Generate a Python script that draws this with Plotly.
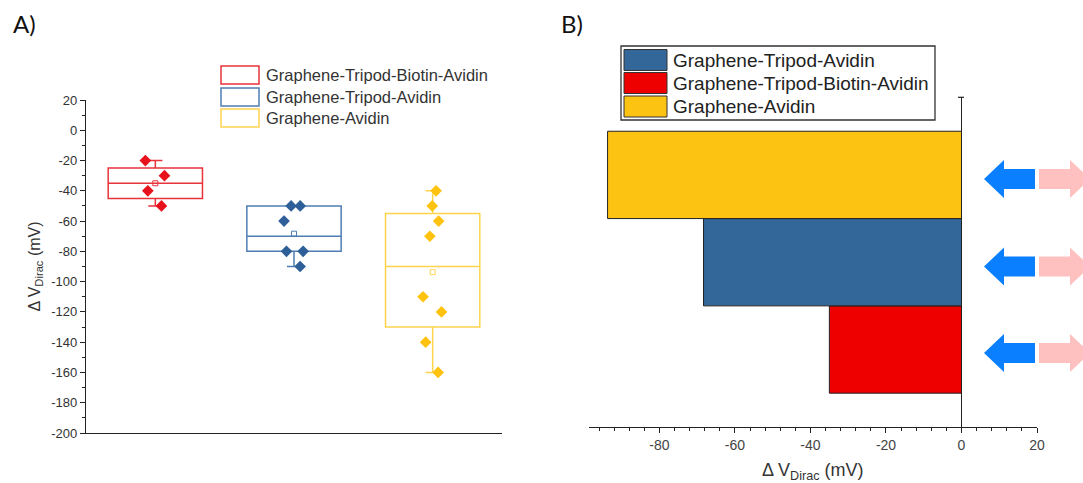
import numpy as np
import plotly.graph_objects as go

W, H = 1083, 483

groups = ["Graphene-Tripod-Biotin-Avidin", "Graphene-Tripod-Avidin", "Graphene-Avidin"]
biotin_avidin = [-20, -30, -40, -50]
tripod_avidin = [-50, -50, -60, -80, -80, -90]
graphene_avidin = [-40, -50, -60, -70, -110, -120, -140, -160]
samples = [biotin_avidin, tripod_avidin, graphene_avidin]

box_line_colors = ["#E8333A", "#4F7DB3", "#FFD44D"]
point_colors = ["#E8121C", "#2E5F99", "#FFC20E"]
bar_colors = ["#EE0000", "#336699", "#FDC312"]
legend_b_order = [1, 0, 2]

y_ticks_a = [20, 0, -20, -40, -60, -80, -100, -120, -140, -160, -180, -200]
y_ticktext_a = ["20", "0", "-20", "-40", "-60", "-80", "-100", "-120", "-140", "-160", "-180", "-200"]
x_ticks_b = [-80, -60, -40, -20, 0, 20]
x_ticktext_b = ["-80", "-60", "-40", "-20", "0", "20"]

FONT = "Liberation Sans, Arial, sans-serif"


def px(x, y):
    # pixel -> paper coords (margins are zero)
    return x / W, 1 - y / H


fig = go.Figure()

# panel A: box plots
for i, vals in enumerate(samples):
    fig.add_trace(go.Box(
        y=vals, x0=i, name=groups[i], width=0.68,
        boxpoints="all", jitter=0.25, pointpos=0,
        quartilemethod="exclusive", whiskerwidth=0.15,
        fillcolor="rgba(0,0,0,0)",
        line=dict(color=box_line_colors[i], width=1.5),
        marker=dict(symbol="diamond", size=9, color=point_colors[i]),
        showlegend=False, xaxis="x", yaxis="y",
    ))
    fig.add_trace(go.Scatter(
        x=[i], y=[np.mean(vals)], mode="markers",
        marker=dict(symbol="square-open", size=5, color=box_line_colors[i],
                    line=dict(width=1)),
        showlegend=False, hoverinfo="y", xaxis="x", yaxis="y",
    ))

# panel B: mean shift bars
for i, vals in enumerate(samples):
    fig.add_trace(go.Bar(
        y=[i], x=[np.mean(vals)], orientation="h", width=1,
        marker=dict(color=bar_colors[i], line=dict(color="#222", width=1)),
        name=groups[i], showlegend=False, xaxis="x2", yaxis="y2",
    ))

shapes = []
annotations = []

# legend A (outlined swatches)
for k, cy in enumerate([75, 97, 118]):
    x0, y0 = px(221, cy - 9)
    x1, y1 = px(259, cy + 9)
    shapes.append(dict(type="rect", xref="paper", yref="paper", x0=x0, x1=x1, y0=y0, y1=y1,
                       line=dict(color=box_line_colors[k], width=1.5), fillcolor="white"))
    tx, ty = px(264, cy)
    annotations.append(dict(x=tx, y=ty, xref="paper", yref="paper", text=groups[k],
                            showarrow=False, xanchor="left", yanchor="middle",
                            font=dict(family=FONT, size=16.5, color="#333")))

# legend B (filled swatches in a frame)
bx0, by0 = px(621, 46)
bx1, by1 = px(935, 120)
shapes.append(dict(type="rect", xref="paper", yref="paper", x0=bx0, x1=bx1, y0=by0, y1=by1,
                   line=dict(color="#333", width=1.3), fillcolor="white"))
for row, cy in enumerate([60, 83, 106.5]):
    k = legend_b_order[row]
    x0, y0 = px(624, cy - 10.5)
    x1, y1 = px(667, cy + 10.5)
    shapes.append(dict(type="rect", xref="paper", yref="paper", x0=x0, x1=x1, y0=y0, y1=y1,
                       line=dict(color="#333", width=1), fillcolor=bar_colors[k]))
    tx, ty = px(671, cy)
    annotations.append(dict(x=tx, y=ty, xref="paper", yref="paper", text=groups[k],
                            showarrow=False, xanchor="left", yanchor="middle",
                            font=dict(family=FONT, size=19, color="#222")))

# double arrows beside the bars
for cy in [179, 266.5, 353]:
    blue = [(984, cy), (1004, cy - 19), (1004, cy - 10), (1035, cy - 10),
            (1035, cy + 10), (1004, cy + 10), (1004, cy + 19)]
    pink = [(1039, cy - 10), (1070, cy - 10), (1070, cy - 19), (1090, cy),
            (1070, cy + 19), (1070, cy + 10), (1039, cy + 10)]
    for pts, col in [(blue, "#0A7FFF"), (pink, "#FFC0C0")]:
        path = "M " + " L ".join("%.5f,%.5f" % px(x, y) for x, y in pts) + " Z"
        shapes.append(dict(type="path", xref="paper", yref="paper", path=path,
                           fillcolor=col, line=dict(width=0)))

# small cap on top of the zero line in panel B
cx0, cy0 = px(958, 97.3)
cx1, _ = px(964, 97.3)
shapes.append(dict(type="line", xref="paper", yref="paper", x0=cx0, x1=cx1, y0=cy0, y1=cy0,
                   line=dict(color="#222", width=1.2)))

for lab, x in [("A)", 11), ("B)", 559)]:
    tx, ty = px(x, 23)
    annotations.append(dict(x=tx, y=ty, xref="paper", yref="paper", text=lab,
                            showarrow=False, xanchor="left", yanchor="middle",
                            font=dict(family="Lato, Open Sans, sans-serif", size=24, color="#111")))

fig.update_layout(
    width=W, height=H,
    margin=dict(l=0, r=0, t=0, b=0),
    paper_bgcolor="white", plot_bgcolor="white",
    barmode="overlay", showlegend=False,
    font=dict(family=FONT, color="#333"),
    shapes=shapes, annotations=annotations,
    xaxis=dict(domain=[86 / W, 502 / W], range=[-0.5, 2.5], type="linear",
               showline=True, linecolor="#222", linewidth=1.3,
               showticklabels=False, ticks="", showgrid=False, zeroline=False,
               anchor="y", automargin=False),
    yaxis=dict(domain=[1 - 433 / H, 1 - 100 / H], range=[-200, 20],
               tickmode="array", tickvals=y_ticks_a, ticktext=y_ticktext_a,
               ticks="outside", ticklen=5, tickwidth=1.2, tickcolor="#222",
               minor=dict(tickmode="linear", tick0=0, dtick=10, ticks="outside",
                          ticklen=3, tickwidth=1, tickcolor="#222"),
               showline=True, linecolor="#222", linewidth=1.3,
               showgrid=False, zeroline=False,
               tickfont=dict(family=FONT, size=13, color="#333"),
               title=dict(text="Δ V<sub>Dirac</sub> (mV)", standoff=6,
                          font=dict(family=FONT, size=16, color="#333")),
               anchor="x", automargin=False),
    xaxis2=dict(domain=[588.5 / W, 1037 / W], range=[-98.8, 20],
                tickmode="array", tickvals=x_ticks_b, ticktext=x_ticktext_b,
                ticks="outside", ticklen=5, tickwidth=1.2, tickcolor="#222",
                minor=dict(tickmode="linear", tick0=0, dtick=4, ticks="outside",
                           ticklen=3, tickwidth=1, tickcolor="#222"),
                showline=True, linecolor="#222", linewidth=1.3,
                showgrid=False, zeroline=True, zerolinecolor="#222", zerolinewidth=1.3,
                tickfont=dict(family=FONT, size=14, color="#444"),
                title=dict(text="Δ V<sub>Dirac</sub> (mV)", standoff=13,
                           font=dict(family=FONT, size=18, color="#333")),
                anchor="y2", automargin=False),
    yaxis2=dict(domain=[1 - 426.7 / H, 1 - 97.3 / H], range=[-0.884, 2.889],
                visible=False, anchor="x2"),
)

fig.write_html("out.html", config={"displayModeBar": False},
               post_script="document.body.style.margin='0';")
